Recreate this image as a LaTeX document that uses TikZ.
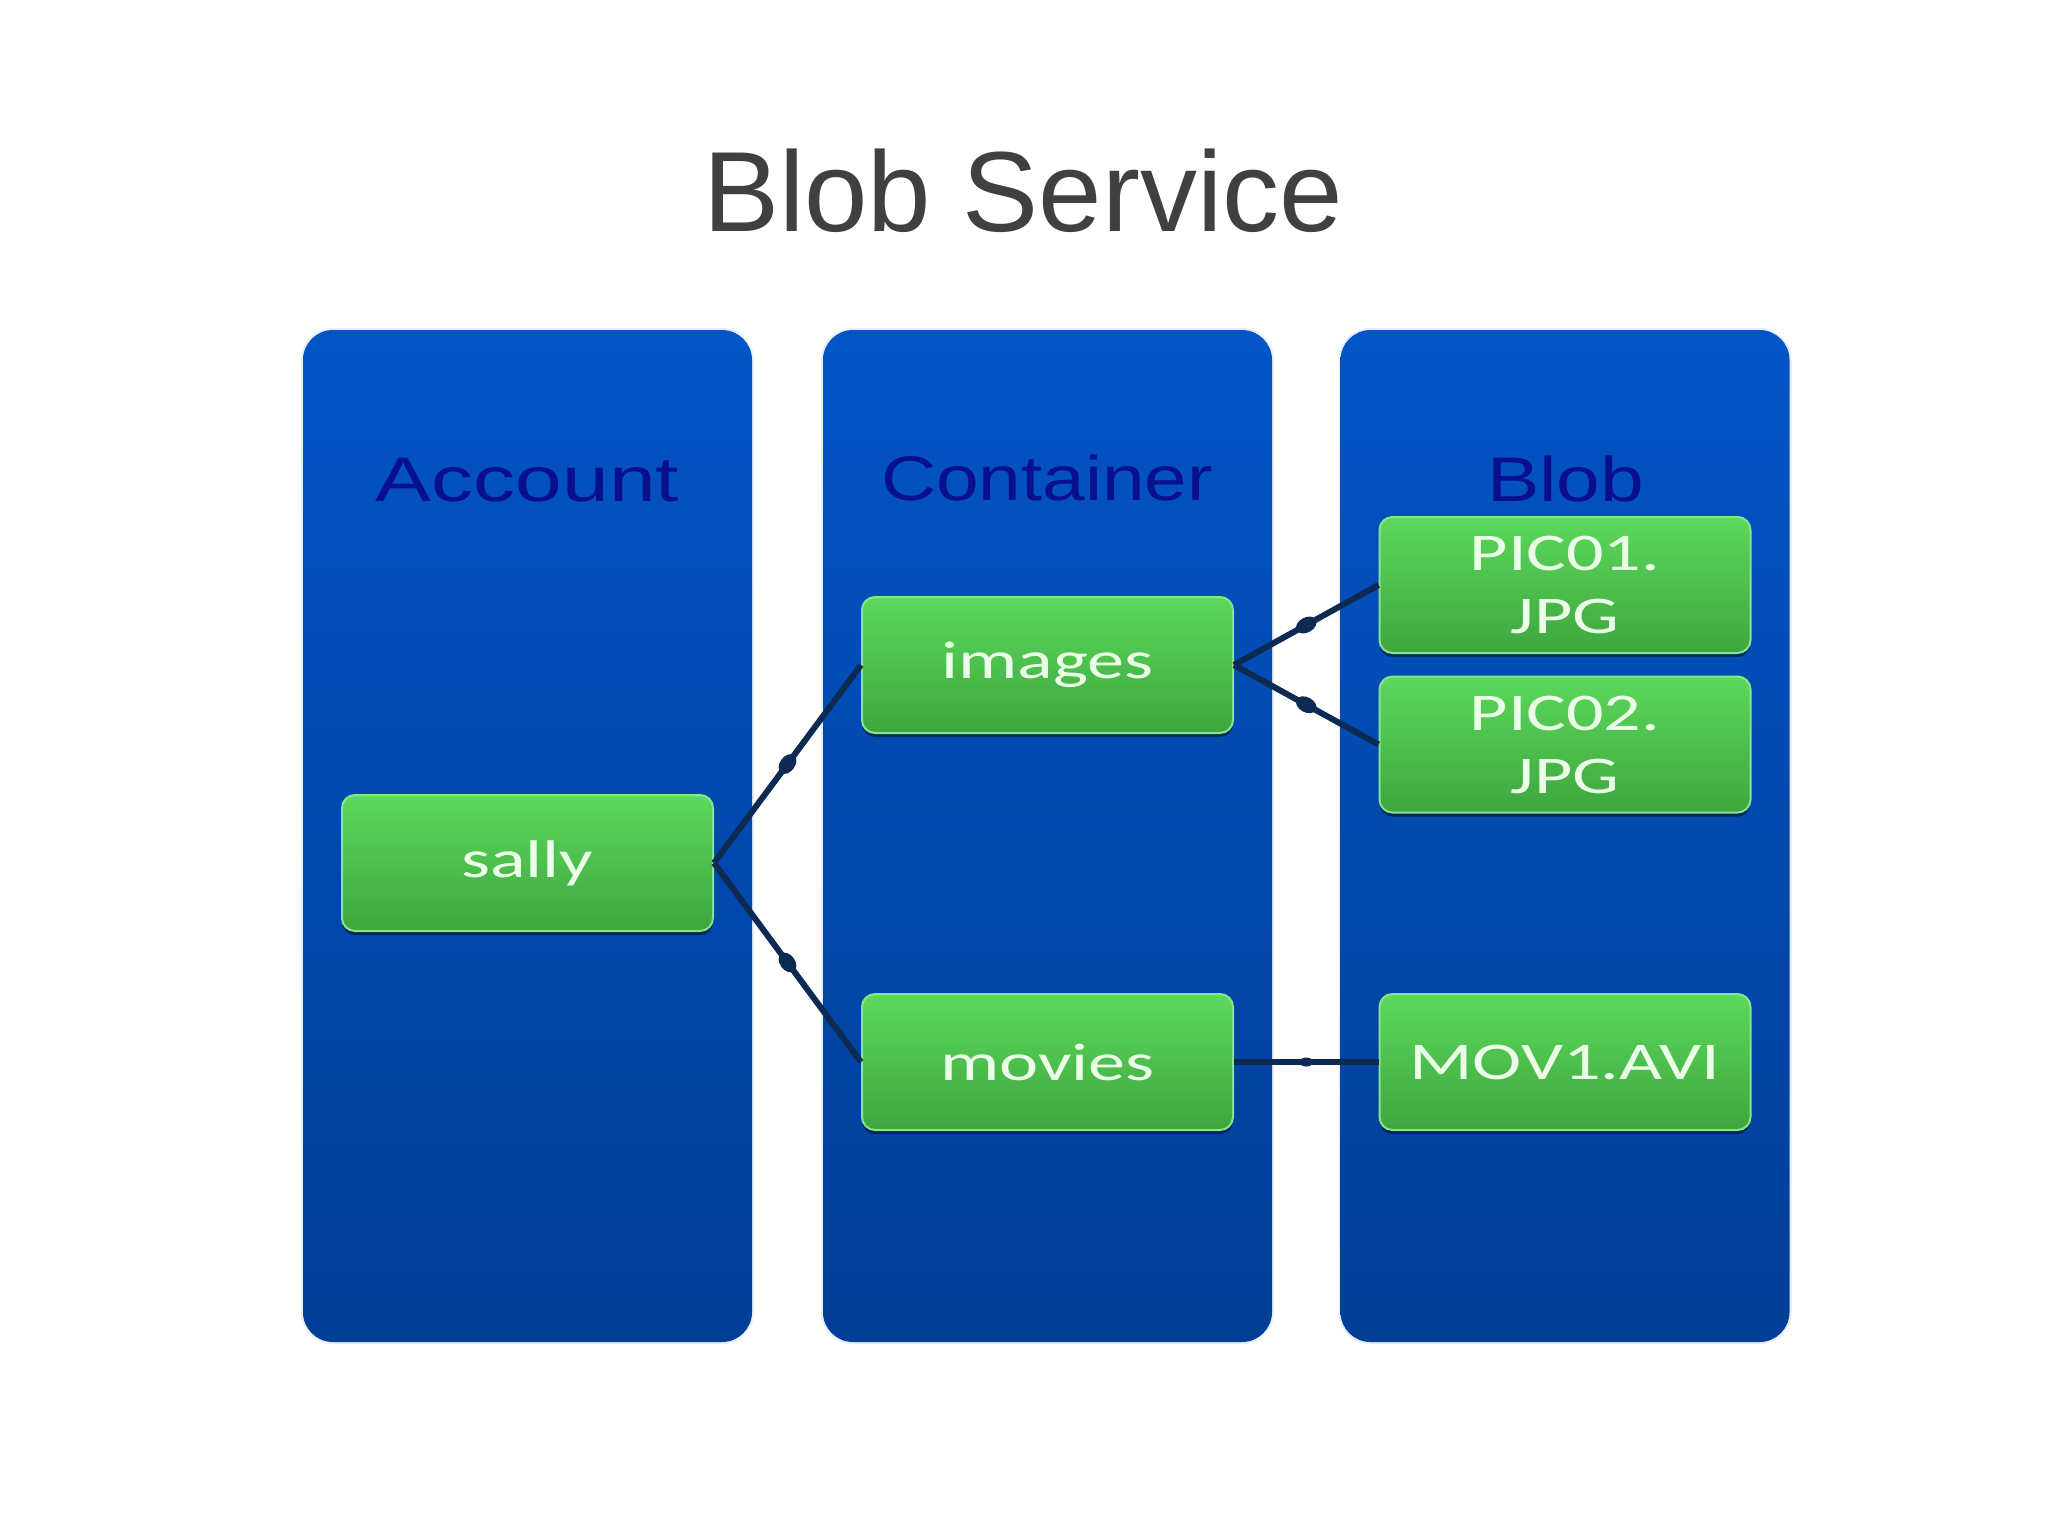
\documentclass[tikz,border=0pt]{standalone}
\usepackage{fontspec}
\usepackage{graphicx}
\usetikzlibrary{shapes.geometric,shadows}
\newfontfamily\titlefont{Liberation Sans}
\newfontfamily\boxfont[FakeStretch=1.4]{Carlito}
\definecolor{colTop}{HTML}{0354C6}
\definecolor{colBot}{HTML}{023E96}
\definecolor{glowC}{HTML}{E6EEFA}
\definecolor{hdrC}{HTML}{0A0F8C}
\definecolor{gTop}{HTML}{5CD85C}
\definecolor{gBot}{HTML}{3EA63E}
\definecolor{gEdge}{HTML}{86E48E}
\definecolor{txtG}{HTML}{EBFFE8}
\definecolor{lineC}{HTML}{0C2A52}
\definecolor{titleC}{HTML}{404040}
\begin{document}
\begin{tikzpicture}[x=1pt,y=-1pt,
  glow/.style={rounded corners=32pt, minimum width=453pt, minimum height=1016pt, fill=glowC, draw=none, inner sep=0pt},
  column/.style={rounded corners=30pt, minimum width=449pt, minimum height=1012pt, top color=colTop, bottom color=colBot, draw=none, inner sep=0pt},
  hdr/.style={font=\titlefont\fontsize{63}{70}\selectfont, text=hdrC, anchor=base, inner sep=0pt},
  gbox/.style={rounded corners=13pt, minimum width=371pt, minimum height=136pt, top color=gTop, bottom color=gBot, draw=gEdge, line width=2pt, font=\boxfont\fontsize{53}{63}\selectfont, text=txtG, align=center, inner sep=0pt,
    drop shadow={shadow xshift=0pt, shadow yshift=-4pt, fill=black, opacity=0.45}},
  conn/.style={draw=lineC, line width=6pt},
  mk/.style={ellipse, fill=lineC, minimum width=22pt, minimum height=15pt, inner sep=0pt, sloped, pos=0.5},
  mks/.style={ellipse, fill=lineC, minimum width=14pt, minimum height=9pt, inner sep=0pt, sloped, pos=0.5}
]
\useasboundingbox[fill=white] (0,0) rectangle (2048,1535);

\node[anchor=base, inner sep=0pt, text=titleC, font=\titlefont\fontsize{114}{132}\selectfont] (title) at (1023,231) {Blob Service};

% columns
\node[glow] (g1) at (527.5,836) {};
\node[glow] (g2) at (1047.5,836) {};
\node[glow] (g3) at (1565,836) {};
\node[column] (c1) at (527.5,836) {};
\node[column] (c2) at (1047.5,836) {};
\node[column] (c3) at (1565,836) {};

% headers
\node[hdr] (h1) at (527.5,501) {\resizebox{303pt}{\height}{Account}};
\node[hdr] (h2) at (1047,500) {\resizebox{332pt}{\height}{Container}};
\node[hdr] (h3) at (1565.5,501) {\resizebox{157pt}{\height}{Blob}};

% boxes
\node[gbox] (sally) at (527.5,863) {sally};
\node[gbox] (images) at (1047.5,665) {images};
\node[gbox] (movies) at (1047.5,1062) {movies};
\node[gbox] (pic1) at (1565,585) {PIC01.\\JPG};
\node[gbox] (pic2) at (1565,744.5) {PIC02.\\JPG};
\node[gbox] (mov1) at (1565,1062) {MOV1.AVI};

% connectors
\draw[conn] (sally.east) -- node[mk] (m1) {} (images.west);
\draw[conn] (sally.east) -- node[mk] (m2) {} (movies.west);
\draw[conn] (images.east) -- node[mk] (m3) {} (pic1.west);
\draw[conn] (images.east) -- node[mk] (m4) {} (pic2.west);
\draw[conn] (movies.east) -- node[mks] (m5) {} (mov1.west);
\end{tikzpicture}
\end{document}
